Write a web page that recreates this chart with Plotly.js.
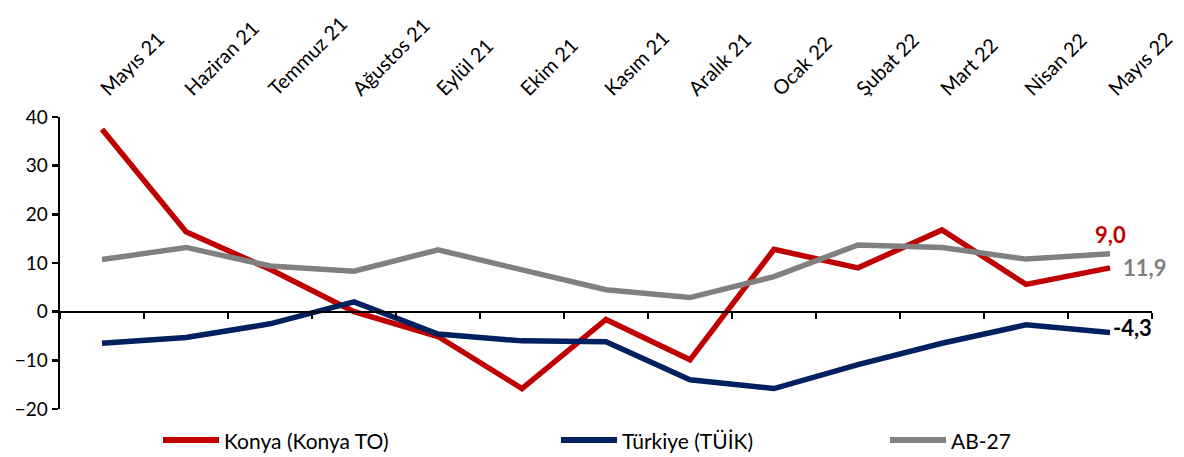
<!DOCTYPE html>
<html>
<head>
<meta charset="utf-8">
<script src="https://cdn.plot.ly/plotly-3.0.1.min.js"></script>
<style>html,body{margin:0;padding:0;background:#fff;}#chart{width:1184px;height:457px;}</style>
</head>
<body>
<div id="chart"></div>
<script>
const categories = ["Mayıs 21","Haziran 21","Temmuz 21","Ağustos 21","Eylül 21","Ekim 21","Kasım 21","Aralık 21","Ocak 22","Şubat 22","Mart 22","Nisan 22","Mayıs 22"];
const konya   = [37.5, 16.4, 8.7, 0.0, -5.1, -15.8, -1.6, -9.9, 12.8, 9.0, 16.8, 5.6, 9.0];
const turkiye = [-6.5, -5.3, -2.5, 2.0, -4.6, -6.0, -6.2, -14.0, -15.8, -10.9, -6.5, -2.7, -4.3];
const ab27    = [10.7, 13.2, 9.4, 8.3, 12.7, 8.6, 4.5, 2.9, 7.2, 13.7, 13.2, 10.8, 11.9];
const yTicks  = [-20, -10, 0, 10, 20, 30, 40];
const seriesNames  = ["Konya (Konya TO)", "Türkiye (TÜİK)", "AB-27"];
const seriesColors = ["#C00000", "#002060", "#808080"];

const FONT = "Lato, 'Open Sans', sans-serif";
function fmt(v){ return v.toFixed(1).replace('.', ','); }
const last = categories.length - 1;

// plot area geometry (px) used for the hand-placed legend
const M = {l: 60, r: 32, t: 117, b: 48};
const PW = 1184 - M.l - M.r, PH = 457 - M.t - M.b;
const px2x = p => (p - M.l) / PW;
const py2y = p => (457 - M.b - p) / PH;

const dataSeries = [konya, turkiye, ab27];
const traces = dataSeries.map((ys, i) => ({
  x: categories, y: ys, name: seriesNames[i], type: "scatter", mode: "lines",
  line: {color: seriesColors[i], width: 5.5}, showlegend: false
}));
// invisible trace to activate the zero-line category axis
traces.push({x: [0], y: [0], xaxis: "x2", yaxis: "y", mode: "markers", marker: {opacity: 0},
             showlegend: false, hoverinfo: "skip"});

const legendLineStart = [163, 561, 890];
const legendY = 440;
const shapes = [], annotations = [];
seriesNames.forEach((n, i) => {
  shapes.push({type: "line", xref: "paper", yref: "paper",
    x0: px2x(legendLineStart[i]), x1: px2x(legendLineStart[i] + 56),
    y0: py2y(legendY), y1: py2y(legendY),
    line: {color: seriesColors[i], width: 6}});
  annotations.push({xref: "paper", yref: "paper", x: px2x(legendLineStart[i] + 59), y: py2y(legendY),
    xanchor: "left", yanchor: "middle", showarrow: false, text: n,
    font: {family: FONT, size: 21, color: "#000"}});
});

annotations.push(
  {x: categories[last], y: konya[last], text: "<b>" + fmt(konya[last]) + "</b>", showarrow: false,
   yshift: 33, xshift: 0, font: {family: FONT, size: 22, color: "#C00000"}},
  {x: categories[last], y: ab27[last], text: "<b>" + fmt(ab27[last]) + "</b>", showarrow: false,
   xanchor: "left", xshift: 11, yshift: -14, font: {family: FONT, size: 22, color: "#808080"}},
  {x: categories[last], y: turkiye[last], text: "<b>" + fmt(turkiye[last]) + "</b>", showarrow: false,
   xanchor: "left", xshift: 1, yshift: 5, font: {family: FONT, size: 22, color: "#000"}}
);

const layout = {
  width: 1184, height: 457,
  margin: M,
  paper_bgcolor: "#fff", plot_bgcolor: "#fff",
  font: {family: FONT, size: 19, color: "#000"},
  showlegend: false,
  xaxis: {type: "category", side: "top", tickangle: -45, showline: false, showgrid: false,
          zeroline: false, ticks: "", range: [-0.5, 12.5], ticklabelstandoff: 12,
          tickfont: {family: FONT, size: 20, color: "#000"}},
  xaxis2: {overlaying: "x", anchor: "free", position: 1/3, range: [-0.5, 12.5],
           showline: true, linecolor: "#000", linewidth: 2.5, showgrid: false, zeroline: false,
           ticks: "outside", ticklen: 6, tickwidth: 2.5, tickcolor: "#000",
           tick0: 0.5, dtick: 1, showticklabels: false, fixedrange: true},
  yaxis: {range: [-20, 40], tickvals: yTicks, showline: true, linecolor: "#000", linewidth: 2.5,
          ticks: "outside", ticklen: 6, tickwidth: 2.5, tickcolor: "#000",
          showgrid: false, zeroline: false,
          tickfont: {family: FONT, size: 19, color: "#000"}},
  shapes: shapes,
  annotations: annotations
};

Plotly.newPlot("chart", traces, layout, {displayModeBar: false, staticPlot: true});
</script>
</body>
</html>
